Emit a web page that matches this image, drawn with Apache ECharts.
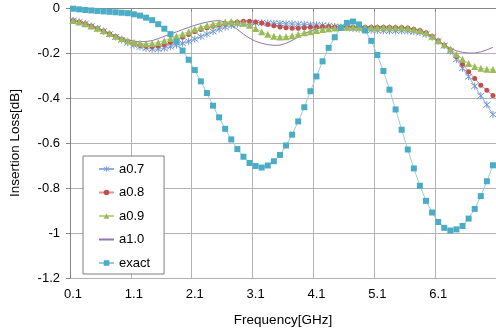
<!DOCTYPE html>
<html>
<head>
<meta charset="utf-8">
<script src="https://cdn.jsdelivr.net/npm/echarts@6/dist/echarts.min.js"></script>
<style>html,body{margin:0;padding:0;background:#fff;}#c{width:496px;height:332px;}</style>
</head>
<body>
<div id="c"></div>
<script>
var categories = ['0.1','0.2','0.3','0.4','0.5','0.6','0.7','0.8','0.9','1.0',
  '1.1','1.2','1.3','1.4','1.5','1.6','1.7','1.8','1.9','2.0',
  '2.1','2.2','2.3','2.4','2.5','2.6','2.7','2.8','2.9','3.0',
  '3.1','3.2','3.3','3.4','3.5','3.6','3.7','3.8','3.9','4.0',
  '4.1','4.2','4.3','4.4','4.5','4.6','4.7','4.8','4.9','5.0',
  '5.1','5.2','5.3','5.4','5.5','5.6','5.7','5.8','5.9','6.0',
  '6.1','6.2','6.3','6.4','6.5','6.6','6.7','6.8','6.9','7.0'];

var a07 = [-0.056,-0.062,-0.07,-0.08,-0.091,-0.103,-0.116,-0.129,-0.142,-0.154,
  -0.165,-0.173,-0.179,-0.183,-0.183,-0.179,-0.172,-0.165,-0.157,-0.148,
  -0.138,-0.127,-0.116,-0.104,-0.094,-0.085,-0.078,-0.072,-0.068,-0.066,
  -0.066,-0.066,-0.067,-0.068,-0.069,-0.07,-0.071,-0.072,-0.073,-0.074,
  -0.075,-0.077,-0.079,-0.082,-0.085,-0.088,-0.091,-0.094,-0.097,-0.099,
  -0.1,-0.101,-0.102,-0.102,-0.102,-0.103,-0.105,-0.109,-0.117,-0.13,
  -0.147,-0.167,-0.192,-0.228,-0.268,-0.305,-0.347,-0.39,-0.43,-0.473];

var a08 = [-0.056,-0.062,-0.07,-0.08,-0.091,-0.102,-0.114,-0.127,-0.139,-0.15,
  -0.159,-0.166,-0.17,-0.171,-0.168,-0.162,-0.153,-0.142,-0.13,-0.118,
  -0.106,-0.096,-0.088,-0.081,-0.075,-0.07,-0.066,-0.062,-0.059,-0.059,
  -0.062,-0.067,-0.073,-0.079,-0.084,-0.088,-0.09,-0.09,-0.088,-0.086,
  -0.084,-0.083,-0.083,-0.084,-0.085,-0.085,-0.086,-0.086,-0.086,-0.086,
  -0.086,-0.086,-0.086,-0.087,-0.087,-0.089,-0.094,-0.1,-0.11,-0.126,
  -0.145,-0.165,-0.186,-0.215,-0.25,-0.283,-0.313,-0.343,-0.366,-0.389];

var a09 = [-0.056,-0.062,-0.07,-0.08,-0.09,-0.101,-0.113,-0.125,-0.136,-0.145,
  -0.152,-0.157,-0.159,-0.158,-0.153,-0.145,-0.135,-0.125,-0.115,-0.105,
  -0.094,-0.085,-0.078,-0.072,-0.066,-0.062,-0.06,-0.062,-0.068,-0.077,
  -0.091,-0.106,-0.117,-0.125,-0.129,-0.128,-0.123,-0.117,-0.11,-0.105,
  -0.1,-0.096,-0.092,-0.089,-0.087,-0.086,-0.086,-0.086,-0.086,-0.086,
  -0.086,-0.086,-0.086,-0.087,-0.087,-0.089,-0.094,-0.1,-0.11,-0.126,
  -0.145,-0.163,-0.182,-0.205,-0.228,-0.247,-0.26,-0.268,-0.272,-0.273];

var a10 = [-0.056,-0.062,-0.07,-0.079,-0.09,-0.101,-0.112,-0.123,-0.133,-0.141,
  -0.147,-0.15,-0.149,-0.145,-0.136,-0.126,-0.116,-0.106,-0.096,-0.086,
  -0.077,-0.069,-0.063,-0.058,-0.056,-0.062,-0.075,-0.095,-0.116,-0.134,
  -0.148,-0.157,-0.163,-0.166,-0.165,-0.157,-0.144,-0.129,-0.115,-0.102,
  -0.093,-0.087,-0.084,-0.082,-0.082,-0.082,-0.082,-0.082,-0.083,-0.083,
  -0.083,-0.083,-0.084,-0.085,-0.086,-0.088,-0.093,-0.1,-0.11,-0.126,
  -0.145,-0.163,-0.18,-0.19,-0.197,-0.2,-0.2,-0.195,-0.186,-0.175];

var exact = [-0.003,-0.006,-0.009,-0.011,-0.013,-0.015,-0.017,-0.019,-0.021,-0.023,
  -0.028,-0.034,-0.043,-0.054,-0.072,-0.092,-0.116,-0.15,-0.189,-0.23,
  -0.276,-0.326,-0.378,-0.434,-0.486,-0.537,-0.584,-0.627,-0.661,-0.689,
  -0.702,-0.709,-0.7,-0.681,-0.653,-0.611,-0.563,-0.504,-0.441,-0.37,
  -0.304,-0.237,-0.177,-0.13,-0.087,-0.066,-0.06,-0.073,-0.1,-0.146,
  -0.209,-0.28,-0.363,-0.451,-0.541,-0.629,-0.713,-0.79,-0.857,-0.909,
  -0.951,-0.977,-0.989,-0.984,-0.969,-0.936,-0.893,-0.836,-0.77,-0.699];

var yTicks = {min: -1.2, max: 0, interval: 0.2};

var asterisk = 'path://M5,0L5,10M1,1L9,9M9,1L1,9';
var chart = echarts.init(document.getElementById('c'), null, {renderer: 'canvas'});
var font = 'Liberation Sans, Arial, sans-serif';
chart.setOption({
  animation: false,
  backgroundColor: '#ffffff',
  grid: {left: 62, right: 0, top: 8, bottom: 44, containLabel: false},
  legend: {
    orient: 'vertical',
    left: 83, top: 156,
    padding: [5, 14, 3, 15],
    itemGap: 7.5,
    itemWidth: 15,
    itemHeight: 7,
    borderColor: '#7f7f7f',
    borderWidth: 1,
    backgroundColor: '#ffffff',
    textStyle: {fontFamily: font, fontSize: 13, color: '#000', lineHeight: 16},
    data: [
      {name: 'a0.7', itemStyle: {color: 'rgba(0,0,0,0)', borderColor: '#6f98d3', borderWidth: 0.8}},
      {name: 'a0.8'},
      {name: 'a0.9'},
      {name: 'a1.0', itemStyle: {opacity: 0}},
      {name: 'exact'}
    ]
  },
  xAxis: {
    type: 'category',
    data: categories,
    boundaryGap: true,
    name: 'Frequency[GHz]',
    nameLocation: 'middle',
    nameGap: 35,
    nameTextStyle: {fontFamily: font, fontSize: 13.5, color: '#000'},
    axisLine: {show: true, lineStyle: {color: '#868686', width: 1}},
    axisTick: {show: true, interval: 9, length: 4, lineStyle: {color: '#868686'}},
    axisLabel: {interval: 9, fontFamily: font, fontSize: 13, color: '#000', margin: 10},
    splitLine: {show: true, interval: 9, lineStyle: {color: '#b3b3b3', width: 1}}
  },
  yAxis: {
    type: 'value',
    min: yTicks.min, max: yTicks.max, interval: yTicks.interval,
    name: 'Insertion Loss[dB]',
    nameLocation: 'middle',
    nameGap: 48,
    nameTextStyle: {fontFamily: font, fontSize: 13.5, color: '#000'},
    axisLine: {show: true, lineStyle: {color: '#868686', width: 1}},
    axisTick: {show: true, length: 4, lineStyle: {color: '#868686'}},
    axisLabel: {fontFamily: font, fontSize: 13, color: '#000', margin: 10},
    splitLine: {show: true, lineStyle: {color: '#b3b3b3', width: 1}}
  },
  series: [
    {name: 'a0.7', type: 'line', data: a07, showAllSymbol: true,
     symbol: asterisk, symbolSize: 7,
     itemStyle: {color: '#6f98d3', borderColor: '#6f98d3', borderWidth: 1},
     lineStyle: {color: '#8fb1e0', width: 1}},
    {name: 'a0.8', type: 'line', data: a08, showAllSymbol: true,
     symbol: 'circle', symbolSize: 5,
     itemStyle: {color: '#c0504d'},
     lineStyle: {color: '#d99694', width: 1}},
    {name: 'a0.9', type: 'line', data: a09, showAllSymbol: true,
     symbol: 'triangle', symbolSize: 7,
     itemStyle: {color: '#9bbb59'},
     lineStyle: {color: '#bdd38f', width: 1}},
    {name: 'a1.0', type: 'line', data: a10,
     symbol: 'none',
     itemStyle: {color: '#8064a2'},
     lineStyle: {color: '#8f78b0', width: 1}},
    {name: 'exact', type: 'line', data: exact, showAllSymbol: true,
     symbol: 'rect', symbolSize: 6,
     itemStyle: {color: '#4bacc6'},
     lineStyle: {color: '#93cddd', width: 1}}
  ]
});
</script>
</body>
</html>
